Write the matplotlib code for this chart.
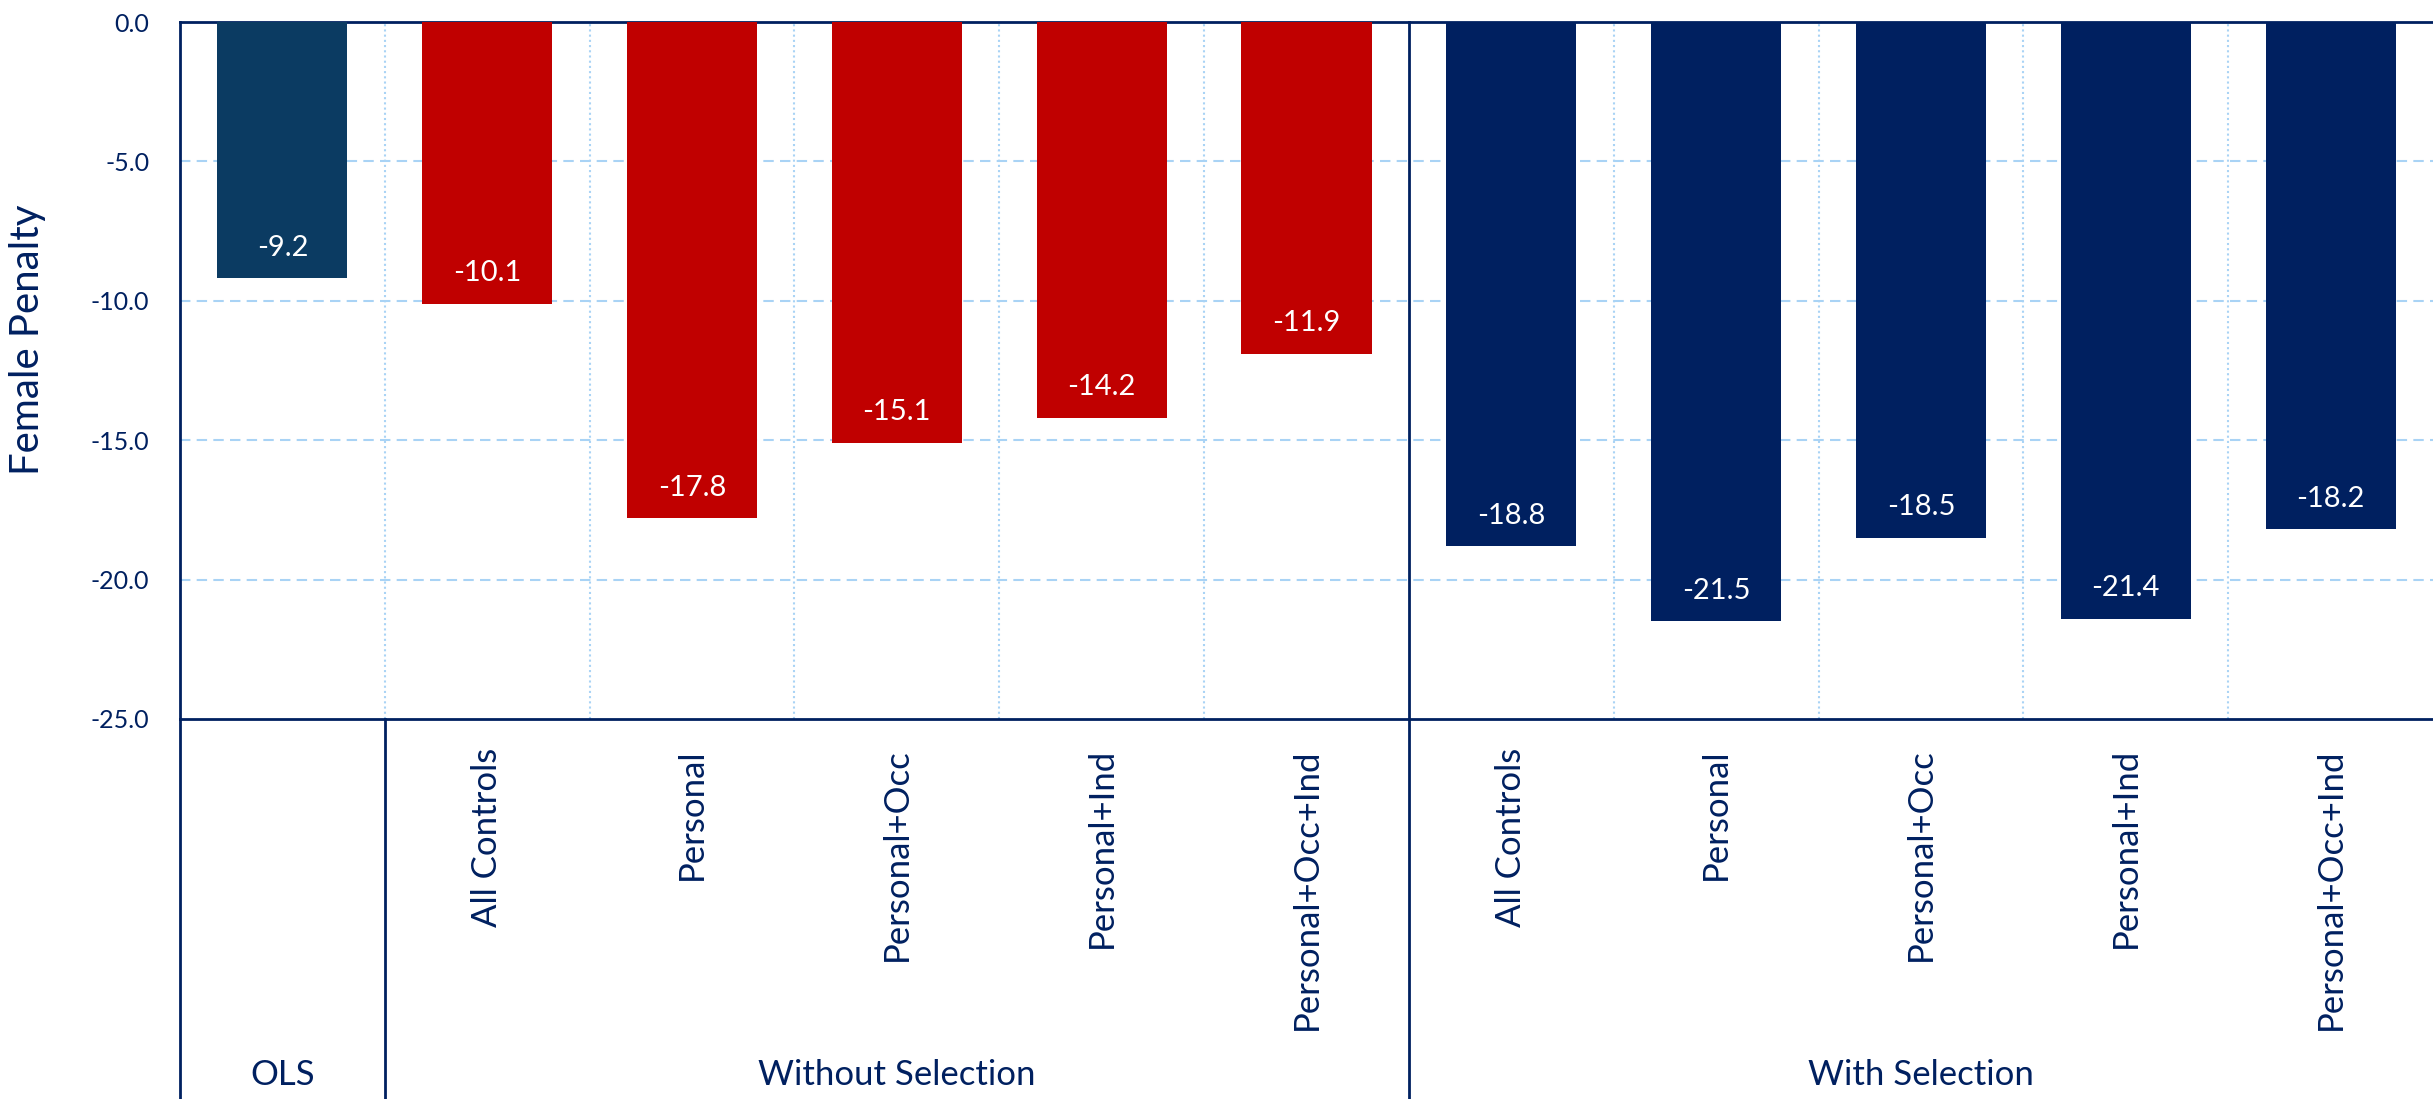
import numpy as np
import matplotlib.pyplot as plt
import matplotlib.transforms as mtransforms

plt.rcParams['font.family'] = ['Lato', 'DejaVu Sans']
plt.rcParams['axes.unicode_minus'] = False

# Data
kategori = ["OLS",
            "All Controls", "Personal", "Personal+Occ", "Personal+Ind", "Personal+Occ+Ind",
            "All Controls", "Personal", "Personal+Occ", "Personal+Ind", "Personal+Occ+Ind"]
nilai = [-9.2, -10.1, -17.8, -15.1, -14.2, -11.9, -18.8, -21.5, -18.5, -21.4, -18.2]
grup = ["OLS", "Without Selection", "With Selection"]
grup_awal = [0, 1, 6]   # index kategori pertama tiap grup
grup_akhir = [0, 5, 10]  # index kategori terakhir tiap grup
warna_grup = ["#0B3B62", "#C00000", "#002060"]

navy = "#002060"
biru_grid = "#A9D3F5"

W, H = 2433, 1099
fig = plt.figure(figsize=(W / 100, H / 100), dpi=100)
ax = fig.add_axes([180 / W, 1 - 719 / H, 1 - 180 / W, (719 - 22) / H])

x = np.arange(len(kategori))
warna = []
for g in range(len(grup)):
    warna += [warna_grup[g]] * (grup_akhir[g] - grup_awal[g] + 1)

ax.bar(x, nilai, width=0.635, color=warna, zorder=3)

# Label nilai di dalam batang
for xi, v in zip(x, nilai):
    ax.annotate("{:.1f}".format(v), (xi, v), xytext=(0, 22), textcoords="offset points",
                ha="center", va="center", color="white", fontsize=21, zorder=4)

ax.set_xlim(-0.5, len(kategori) - 0.5)
ax.set_ylim(-25, 0)
ax.set_yticks(np.arange(-25, 0.1, 5))
ax.set_yticklabels(["{:.1f}".format(t) for t in np.arange(-25, 0.1, 5)])
ax.tick_params(axis="y", length=0, labelsize=18, labelcolor=navy, pad=22)
ax.set_xticks([])

# Grid
for t in [-5, -10, -15, -20]:
    ax.axhline(t, color=biru_grid, lw=1.5, ls=(0, (5, 3)), zorder=1)
for b in np.arange(0.5, len(kategori) - 0.5, 1.0):
    if b == grup_akhir[1] + 0.5:
        continue
    ax.axvline(b, color=biru_grid, lw=1.5, ls=(0, (1, 1.5)), zorder=1)

for s in ["left", "top", "bottom"]:
    ax.spines[s].set_color(navy)
    ax.spines[s].set_linewidth(2)
ax.spines["right"].set_visible(False)

# Garis pemisah grup
trans = ax.get_xaxis_transform()
ax.plot([grup_akhir[0] + 0.5] * 2, [0, -0.7], color=navy, lw=2, transform=trans, clip_on=False)
ax.plot([grup_akhir[1] + 0.5] * 2, [1, -0.7], color=navy, lw=2, transform=trans, clip_on=False, zorder=5)
ax.plot([-0.5, -0.5], [0, -0.7], color=navy, lw=2, transform=trans, clip_on=False)

# Label kategori & grup
tfig = mtransforms.blended_transform_factory(ax.transData, fig.transFigure)
for xi, k in zip(x, kategori):
    if xi == 0:
        continue
    ax.text(xi, 1 - 748 / H, k, rotation=90, ha="center", va="top",
            fontsize=25, color=navy, transform=tfig)
for g, nama in enumerate(grup):
    xc = (grup_awal[g] + grup_akhir[g]) / 2
    ax.text(xc, 1 - 1075 / H, nama, ha="center", va="center",
            fontsize=25, color=navy, transform=tfig)

fig.text(28 / W, 1 - 340 / H, "Female Penalty", rotation=90, ha="center", va="center",
         fontsize=29, color=navy)

fig.savefig("out.png", dpi=100)
